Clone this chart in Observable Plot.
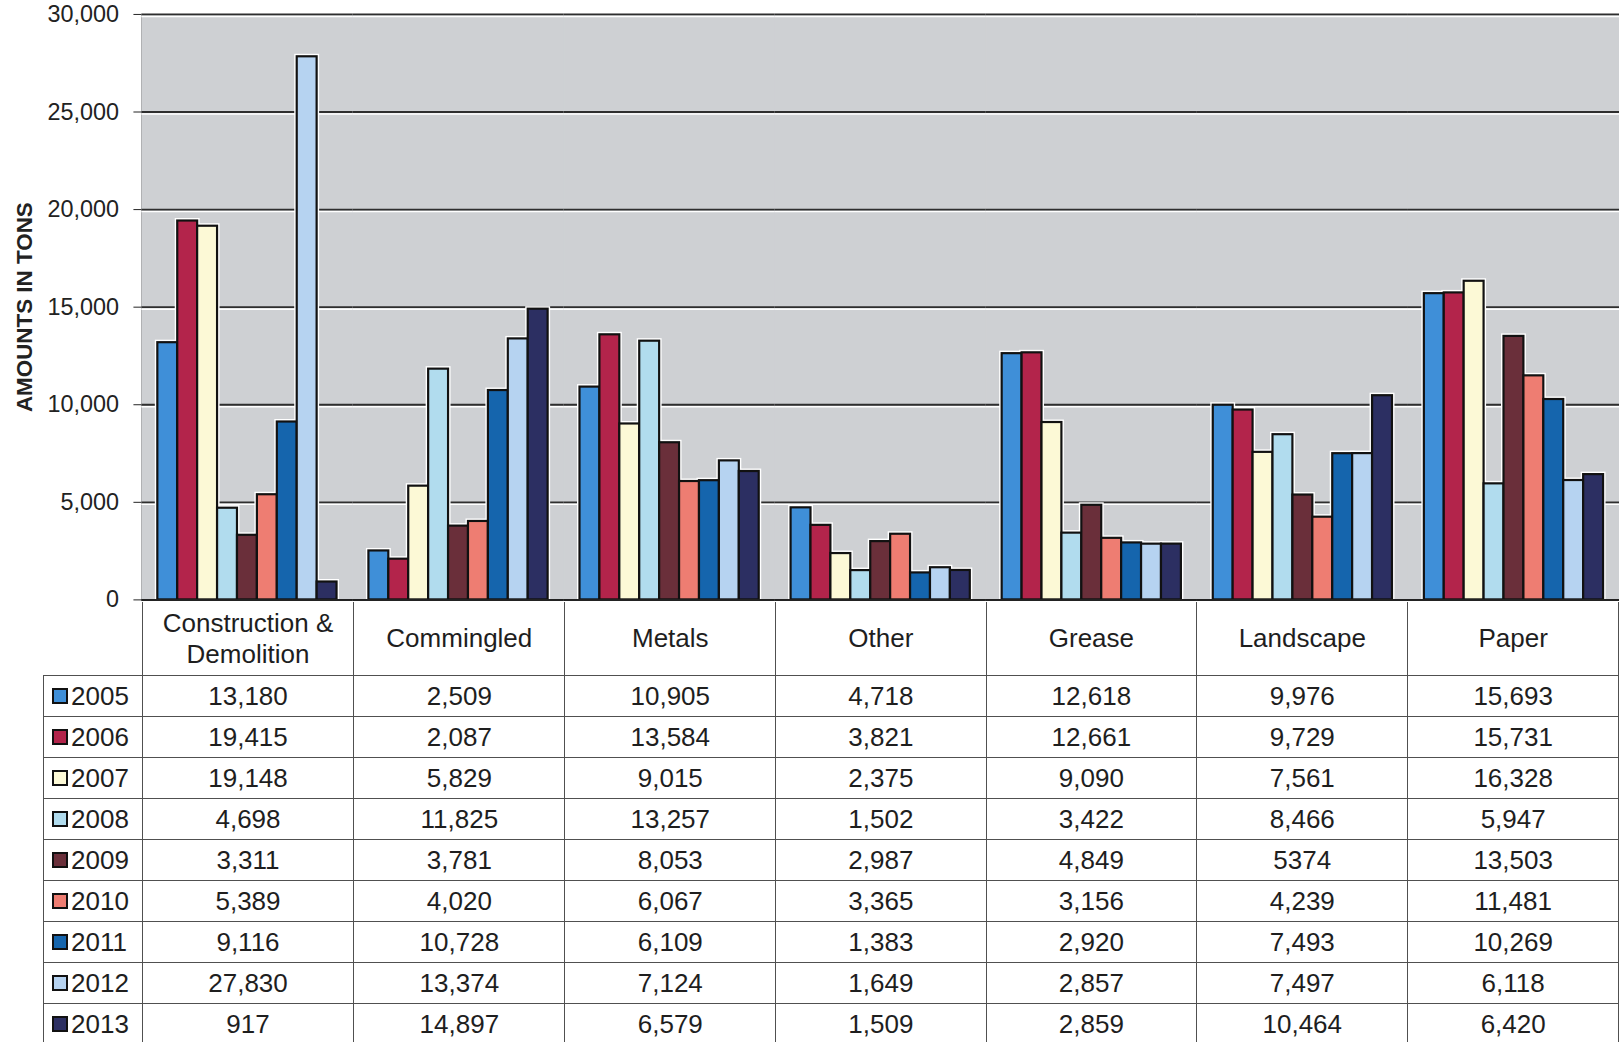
<!DOCTYPE html>
<html>
<head>
<meta charset="utf-8">
<script src="https://cdn.jsdelivr.net/npm/d3@7"></script>
<script src="https://cdn.jsdelivr.net/npm/@observablehq/plot@0.6"></script>
<style>
  html, body { margin: 0; padding: 0; background: #fff; overflow: hidden; width: 1619px; height: 1042px; }
  #chart { position: absolute; left: 0; top: 0; }
  #chart svg { overflow: visible; }
  #chart [aria-label="y-axis label"], #chart [aria-label="y-axis label"] text { font-weight: bold; font-size: 22.5px; }
  #chart [aria-label="y-axis tick label"], #chart [aria-label="y-axis tick label"] text { font-size: 23.5px; }
  #tbl { position: absolute; left: 43px; top: 602px; border-collapse: collapse; table-layout: fixed;
         font-family: "Liberation Sans", Arial, sans-serif; font-size: 26px; color: #1e1e1e; }
  #tbl td, #tbl th { border: 1.5px solid #505050; padding: 0; text-align: center; font-weight: normal; overflow: hidden; white-space: nowrap; }
  #tbl thead th { height: 73px; line-height: 31px; white-space: normal; border-top: none; vertical-align: middle; }
  #tbl thead th.blank { border-left: none; border-top: none; }
  #tbl tbody td { height: 40px; }
  #tbl tbody td.yr { text-align: left; padding-left: 8px; }
  .sw { display: inline-block; width: 12px; height: 12px; border: 2px solid #111; vertical-align: 1px; margin-right: 3px; }
</style>
</head>
<body>
<div id="chart"></div>
<script>
// ---- data ----
const categories = ["Construction & Demolition", "Commingled", "Metals", "Other", "Grease", "Landscape", "Paper"];
const years = ["2005", "2006", "2007", "2008", "2009", "2010", "2011", "2012", "2013"];
const v2005 = [13180, 2509, 10905, 4718, 12618, 9976, 15693];
const v2006 = [19415, 2087, 13584, 3821, 12661, 9729, 15731];
const v2007 = [19148, 5829, 9015, 2375, 9090, 7561, 16328];
const v2008 = [4698, 11825, 13257, 1502, 3422, 8466, 5947];
const v2009 = [3311, 3781, 8053, 2987, 4849, 5374, 13503];
const v2010 = [5389, 4020, 6067, 3365, 3156, 4239, 11481];
const v2011 = [9116, 10728, 6109, 1383, 2920, 7493, 10269];
const v2012 = [27830, 13374, 7124, 1649, 2857, 7497, 6118];
const v2013 = [917, 14897, 6579, 1509, 2859, 10464, 6420];
const series = [v2005, v2006, v2007, v2008, v2009, v2010, v2011, v2012, v2013];
const yTicks = [0, 5000, 10000, 15000, 20000, 25000, 30000];
const yearColors = ["#3f8fd8", "#b3244b", "#fcf9d6", "#b1dcee", "#6a2f3a", "#ee7d72", "#1565ad", "#b6d3f1", "#2c2f62"];
// cells printed without a thousands separator in the source table
const plainCells = [["2009", "Landscape"]];

const data = years.flatMap((yr, i) => categories.map((c, j) => ({year: yr, category: c, value: series[i][j]})));
const fmt = d3.format(",");

const chart = Plot.plot({
  width: 1626,
  height: 606,
  marginLeft: 142,
  marginRight: 0,
  marginTop: 14,
  marginBottom: 4,
  style: {fontFamily: "'Liberation Sans', Arial, sans-serif", fontSize: "22px", color: "#222", background: "transparent"},
  facet: {data, x: "category", marginTop: 0, marginBottom: 0, marginLeft: 0, marginRight: 0},
  fx: {domain: categories, padding: 0, axis: null, label: null},
  x: {domain: years, paddingInner: 0, paddingOuter: 0.6, axis: null},
  y: {domain: [0, 30000], ticks: yTicks, tickFormat: fmt, tickSize: 8, tickPadding: 15, line: true,
      label: "AMOUNTS IN TONS", labelAnchor: "center", labelOffset: 126, labelArrow: false},
  color: {domain: years, range: yearColors},
  marks: [
    Plot.frame({fill: "#ced0d3", stroke: "#ced0d3", strokeWidth: 1}),
    Plot.ruleY(yTicks, {y: d => d, stroke: "#ffffff", strokeWidth: 1.5, dy: 2}),
    Plot.ruleY(yTicks, {y: d => d, stroke: "#2e2e2e", strokeWidth: 1.8}),
    Plot.barY(data, {x: "year", y: "value", fill: "none", stroke: "#fff", strokeWidth: 5}),
    Plot.barY(data, {x: "year", y: "value", fill: "year", stroke: "#111", strokeWidth: 2.2}),
    Plot.ruleY([0], {stroke: "#222", strokeWidth: 2})
  ]
});
// drop any direction arrow the axis label may carry
chart.querySelectorAll("text").forEach(t => {
  if (t.textContent.includes("↑")) t.textContent = t.textContent.replace(/\s*↑\s*/g, "");
});
document.getElementById("chart").appendChild(chart);

// ---- data table below the chart ----
const table = document.createElement("table");
table.id = "tbl";
const colgroup = document.createElement("colgroup");
[99, ...categories.map(() => 212)].forEach(w => {
  const col = document.createElement("col");
  col.style.width = w + "px";
  colgroup.appendChild(col);
});
table.appendChild(colgroup);
const thead = document.createElement("thead");
const hr = document.createElement("tr");
const blank = document.createElement("th");
blank.className = "blank";
hr.appendChild(blank);
categories.forEach(c => {
  const th = document.createElement("th");
  th.textContent = c;
  hr.appendChild(th);
});
thead.appendChild(hr);
table.appendChild(thead);
const tbody = document.createElement("tbody");
years.forEach((yr, i) => {
  const tr = document.createElement("tr");
  const td0 = document.createElement("td");
  td0.className = "yr";
  const sw = document.createElement("span");
  sw.className = "sw";
  sw.style.background = yearColors[i];
  td0.appendChild(sw);
  td0.appendChild(document.createTextNode(yr));
  tr.appendChild(td0);
  categories.forEach((c, j) => {
    const td = document.createElement("td");
    const plain = plainCells.some(([y, cc]) => y === yr && cc === c);
    td.textContent = plain ? String(series[i][j]) : fmt(series[i][j]);
    tr.appendChild(td);
  });
  tbody.appendChild(tr);
});
table.appendChild(tbody);
document.body.appendChild(table);
</script>
</body>
</html>
